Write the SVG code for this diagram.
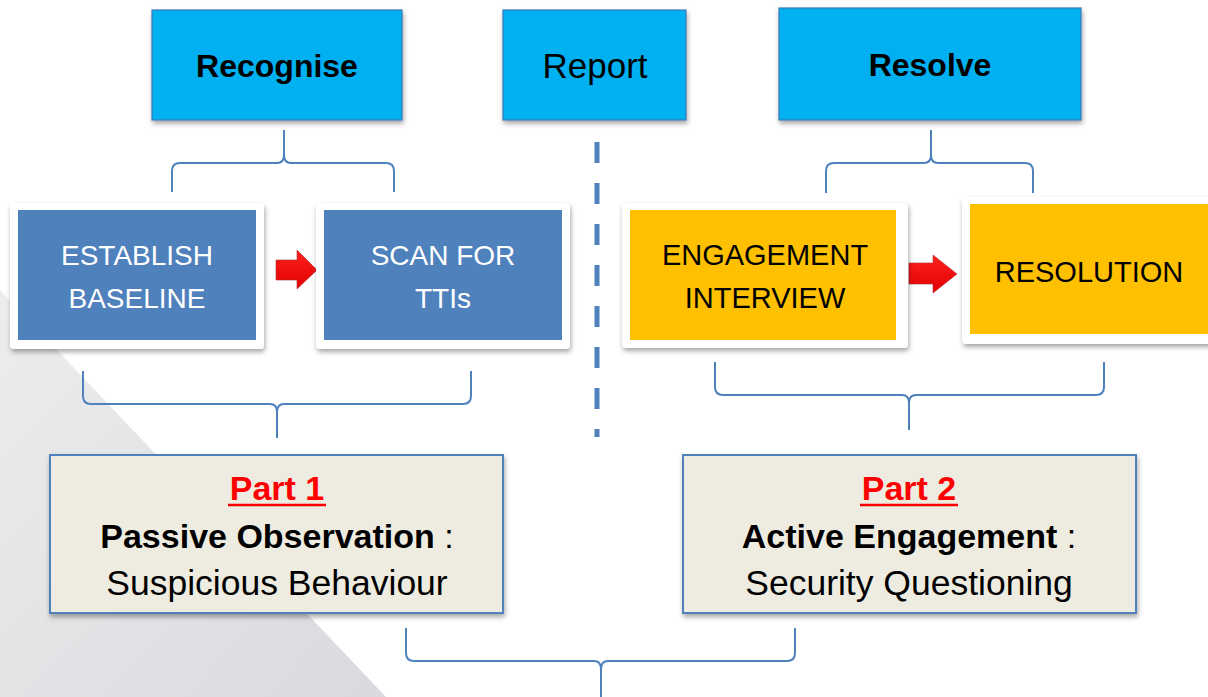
<svg xmlns="http://www.w3.org/2000/svg" width="1208" height="697" viewBox="0 0 1208 697">
<defs>
<linearGradient id="bg" x1="0" y1="0" x2="1" y2="1">
<stop offset="0" stop-color="#ECEDEE"/>
<stop offset="1" stop-color="#D9DADD"/>
</linearGradient>
<filter id="sh" x="-10%" y="-10%" width="125%" height="130%">
<feDropShadow dx="1" dy="3" stdDeviation="2.5" flood-color="#000" flood-opacity="0.35"/>
</filter>
<linearGradient id="ar" x1="0" y1="0" x2="0" y2="1">
<stop offset="0" stop-color="#FF2020"/>
<stop offset="1" stop-color="#E00000"/>
</linearGradient>
<style>
.top{fill:#00B0F0;stroke:#3C79B8;stroke-width:1.2}
.card{fill:#FFFFFF}
.blue{fill:#4F81BD}
.orange{fill:#FFC000}
.part{fill:#EEECE1;stroke:#4F81BD;stroke-width:2}
.brace{fill:none;stroke:#4F81BD;stroke-width:2}
.arrow{fill:url(#ar);stroke:#B03030;stroke-width:0.6}
text{font-family:"Liberation Sans",Arial,sans-serif;text-anchor:middle}
.tb{font-size:32px;font-weight:bold;fill:#000}
.tr{font-size:35px;fill:#000}
.wt{font-size:28px;fill:#FFFFFF}
.bk{font-size:29px;fill:#000}
.pl{font-size:34px;fill:#000}
.pl3{font-size:35.5px;fill:#000}
.red{font-size:34px;font-weight:bold;fill:#FF0000}
</style>
</defs>
<rect width="1208" height="697" fill="#FFFFFF"/>
<polygon points="0,290 386,697 0,697" fill="url(#bg)"/>

<g id="connectors">
<path class="brace" d="M172,192 L172,171 Q172,163 180,163 L277,163 Q284,163 284,155 L284,130 M284,155 Q284,163 291,163 L386,163 Q394,163 394,171 L394,192"/>
<path class="brace" d="M826,193 L826,171 Q826,163 834,163 L924,163 Q931,163 931,155 L931,130 M931,155 Q931,163 938,163 L1025,163 Q1033,163 1033,171 L1033,193"/>
<line x1="597" y1="142" x2="597" y2="437" stroke="#4F81BD" stroke-width="5" stroke-dasharray="21,20"/>
<path class="brace" d="M83,371 L83,396 Q83,404 91,404 L270,404 Q277,404 277,412 L277,438 M277,412 Q277,404 284,404 L463,404 Q471,404 471,396 L471,371"/>
<path class="brace" d="M715,362 L715,387 Q715,395 723,395 L902,395 Q909,395 909,403 L909,430 M909,403 Q909,395 916,395 L1096,395 Q1104,395 1104,387 L1104,362"/>
<path class="brace" d="M406,628 L406,653 Q406,661 414,661 L594,661 Q601,661 601,669 L601,697 M601,669 Q601,661 608,661 L787,661 Q795,661 795,653 L795,628"/>
<polygon class="arrow" points="276,260 297,260 297,250 317,270 297,289 297,280 276,280"/>
<polygon class="arrow" points="909,263 933,263 933,255 957,274 933,293 933,284 909,284"/>
</g>

<g id="recognise">
<rect class="top" x="152" y="10" width="250" height="110" filter="url(#sh)"/>
<text class="tb" x="277" y="77">Recognise</text>
</g>
<g id="report">
<rect class="top" x="503" y="10" width="183" height="110" filter="url(#sh)"/>
<text class="tr" x="595" y="78">Report</text>
</g>
<g id="resolve">
<rect class="top" x="779" y="8" width="302" height="112" filter="url(#sh)"/>
<text class="tb" x="930" y="76">Resolve</text>
</g>

<g id="establish-baseline">
<rect class="card" x="10" y="203" width="254" height="146" rx="4" filter="url(#sh)"/>
<rect class="blue" x="18" y="210" width="238" height="130"/>
<text class="wt" x="137" y="265">ESTABLISH</text>
<text class="wt" x="137" y="308">BASELINE</text>
</g>
<g id="scan-for-ttis">
<rect class="card" x="316" y="203" width="254" height="146" rx="4" filter="url(#sh)"/>
<rect class="blue" x="324" y="210" width="238" height="130"/>
<text class="wt" x="443" y="265">SCAN FOR</text>
<text class="wt" x="443" y="308">TTIs</text>
</g>
<g id="engagement-interview">
<rect class="card" x="622" y="203" width="286" height="145" rx="4" filter="url(#sh)"/>
<rect class="orange" x="630" y="210" width="266" height="130"/>
<text class="bk" x="765" y="265">ENGAGEMENT</text>
<text class="bk" x="765" y="308">INTERVIEW</text>
</g>
<g id="resolution">
<rect class="card" x="962" y="197" width="260" height="147" rx="4" filter="url(#sh)"/>
<rect class="orange" x="970" y="204" width="250" height="130"/>
<text class="bk" x="1089" y="282">RESOLUTION</text>
</g>

<g id="part1">
<rect class="part" x="50" y="455" width="453" height="158" filter="url(#sh)"/>
<text class="red" x="277" y="500">Part 1</text>
<line x1="228" y1="505" x2="326" y2="505" stroke="#FF0000" stroke-width="2.5"/>
<text class="pl" x="277" y="548"><tspan font-weight="bold">Passive Observation</tspan> :</text>
<text class="pl3" x="277" y="595">Suspicious Behaviour</text>
</g>
<g id="part2">
<rect class="part" x="683" y="455" width="453" height="158" filter="url(#sh)"/>
<text class="red" x="909" y="500">Part 2</text>
<line x1="860" y1="505" x2="958" y2="505" stroke="#FF0000" stroke-width="2.5"/>
<text class="pl" x="909" y="548"><tspan font-weight="bold">Active Engagement</tspan> :</text>
<text class="pl3" x="909" y="595">Security Questioning</text>
</g>
</svg>
